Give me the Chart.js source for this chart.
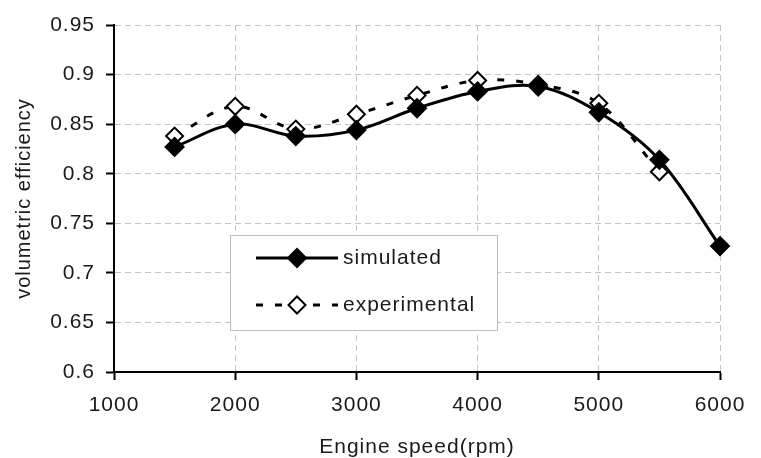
<!DOCTYPE html>
<html>
<head>
<meta charset="utf-8">
<title>Volumetric efficiency</title>
<script src="https://cdn.jsdelivr.net/npm/chart.js@4.4.0/dist/chart.umd.min.js"></script>
<style>
    html, body { margin: 0; padding: 0; background: #fff; }
    #wrap { width: 761px; height: 458px; }
</style>
</head>
<body>
<div id="wrap"><canvas id="chart" width="761" height="458"></canvas></div>
<script>
// Engine speed (rpm) on the x axis
const speeds = [1500, 2000, 2500, 3000, 3500, 4000, 4500, 5000, 5500, 6000];
// Volumetric efficiency per speed
const simulated = [0.827, 0.850, 0.838, 0.844, 0.866, 0.883, 0.888, 0.862, 0.814, 0.727];
const experimental = [0.838, 0.868, 0.845, 0.860, 0.879, 0.894, 0.890, 0.871, 0.802, null];
const seriesNames = ['simulated', 'experimental'];
const xTicks = [1000, 2000, 3000, 4000, 5000, 6000];
const yTicks = [0.6, 0.65, 0.7, 0.75, 0.8, 0.85, 0.9, 0.95];

const FONT = 'Liberation Sans, Arial, sans-serif';
const TEXT = '#1a1a1a';
const SPACING = '1px';

const toPoints = (vals) => speeds.map((s, i) => ({ x: s, y: vals[i] })).filter(p => p.y !== null);

// text in the reference is a little wider than plain Arial
const spacingPlugin = {
    id: 'spacing',
    beforeUpdate(chart) { chart.ctx.letterSpacing = SPACING; },
    beforeDraw(chart) { chart.ctx.letterSpacing = SPACING; }
};

// legend box drawn inside the plot, like the original
const boxLegend = {
    id: 'boxLegend',
    afterDraw(chart) {
        const ctx = chart.ctx;
        ctx.save();
        ctx.fillStyle = '#fff';
        ctx.strokeStyle = '#bdbdbd';
        ctx.lineWidth = 1;
        ctx.fillRect(230.5, 235.5, 267, 95);
        ctx.strokeRect(230.5, 235.5, 267, 95);

        const rows = [258, 305];
        chart.data.datasets.forEach((ds, i) => {
            const y = rows[i];
            ctx.strokeStyle = '#000';
            ctx.lineWidth = ds.borderWidth;
            ctx.setLineDash(ds.borderDash || []);
            ctx.beginPath();
            ctx.moveTo(256, y);
            ctx.lineTo(338, y);
            ctx.stroke();
            ctx.setLineDash([]);
            const r = ds.pointRadius;
            ctx.beginPath();
            ctx.moveTo(297 - r, y);
            ctx.lineTo(297, y - r);
            ctx.lineTo(297 + r, y);
            ctx.lineTo(297, y + r);
            ctx.closePath();
            ctx.fillStyle = ds.pointBackgroundColor;
            ctx.fill();
            ctx.lineWidth = ds.pointBorderWidth;
            ctx.stroke();
            ctx.fillStyle = TEXT;
            ctx.font = '21px ' + FONT;
            ctx.textBaseline = 'middle';
            ctx.letterSpacing = SPACING;
            ctx.fillText(ds.label, 343, y);
        });
        ctx.restore();
    }
};

new Chart(document.getElementById('chart').getContext('2d'), {
    type: 'line',
    data: {
        datasets: [{
            label: seriesNames[0],
            data: toPoints(simulated),
            borderColor: '#000',
            borderWidth: 3,
            tension: 0.35,
            pointStyle: 'rectRot',
            pointRadius: 9,
            pointBorderWidth: 2,
            pointBackgroundColor: '#000',
            pointBorderColor: '#000',
            clip: false
        }, {
            label: seriesNames[1],
            data: toPoints(experimental),
            borderColor: '#000',
            borderWidth: 3,
            borderDash: [7, 12],
            tension: 0.35,
            pointStyle: 'rectRot',
            pointRadius: 8.5,
            pointBorderWidth: 2,
            pointBackgroundColor: '#fff',
            pointBorderColor: '#000',
            clip: false
        }]
    },
    options: {
        responsive: false,
        animation: false,
        events: [],
        layout: { padding: { top: 25, right: 41, left: 0, bottom: 0 } },
        plugins: {
            legend: { display: false },
            tooltip: { enabled: false }
        },
        scales: {
            x: {
                type: 'linear',
                min: xTicks[0],
                max: xTicks[xTicks.length - 1],
                afterFit: (scale) => { scale.height = 86; },
                afterBuildTicks: (scale) => { scale.ticks = xTicks.map(v => ({ value: v })); },
                ticks: {
                    color: TEXT,
                    padding: 13,
                    maxRotation: 0,
                    callback: (v) => String(v),
                    font: { family: FONT, size: 21, lineHeight: 1.2 }
                },
                grid: {
                    color: '#c4c4c4',
                    lineWidth: 1,
                    tickLength: 8,
                    tickColor: '#000',
                    tickWidth: 2
                },
                border: { color: '#000', width: 2, dash: [6, 4] },
                title: {
                    display: true,
                    text: 'Engine speed(rpm)',
                    color: TEXT,
                    padding: { top: 0, bottom: 0 },
                    font: { family: FONT, size: 21, lineHeight: 1 }
                }
            },
            y: {
                min: yTicks[0],
                max: yTicks[yTicks.length - 1],
                afterFit: (scale) => { scale.width = 114; },
                afterBuildTicks: (scale) => { scale.ticks = yTicks.map(v => ({ value: v })); },
                ticks: {
                    color: TEXT,
                    padding: 11,
                    callback: (v) => String(Number(v.toFixed(2))),
                    font: { family: FONT, size: 21, lineHeight: 1.2 }
                },
                grid: {
                    color: '#c4c4c4',
                    lineWidth: 1,
                    tickLength: 8,
                    tickColor: '#000',
                    tickWidth: 2
                },
                border: { color: '#000', width: 2, dash: [6, 4] },
                title: {
                    display: true,
                    text: 'volumetric efficiency',
                    color: TEXT,
                    padding: { top: 12, bottom: 0 },
                    font: { family: FONT, size: 20, lineHeight: 1.2 }
                }
            }
        }
    },
    plugins: [spacingPlugin, boxLegend]
});
</script>
</body>
</html>
